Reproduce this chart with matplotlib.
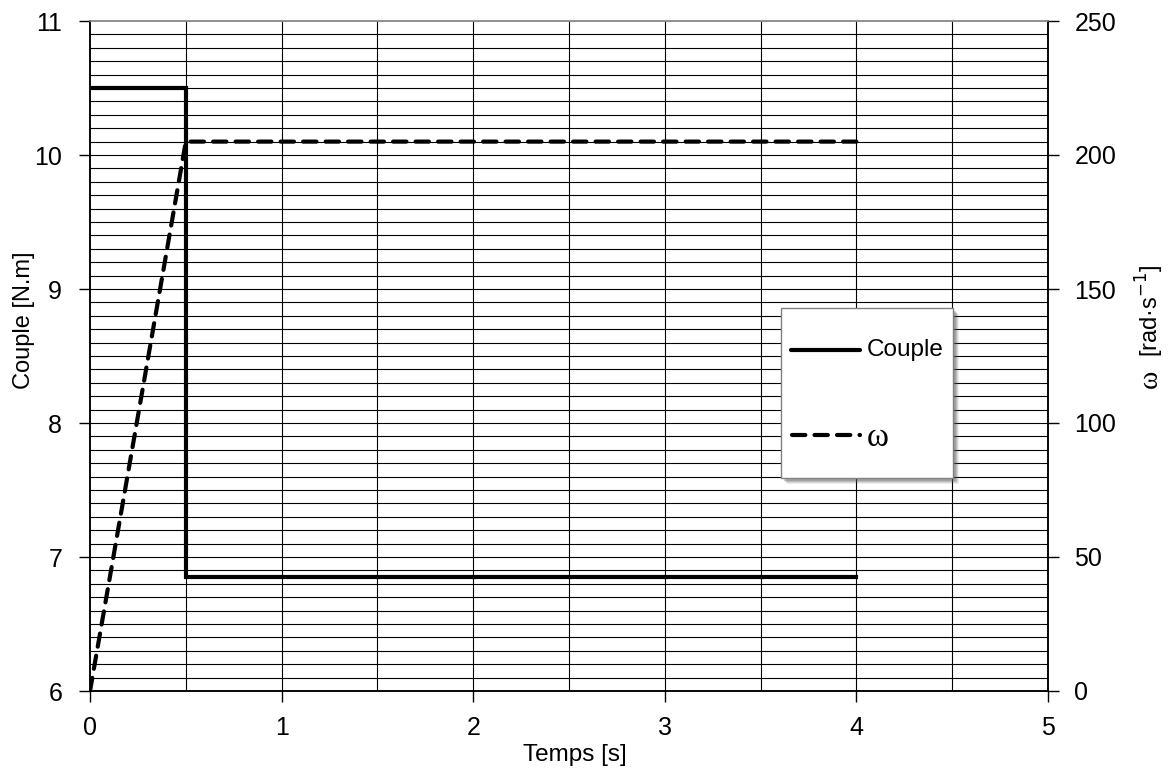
import matplotlib
matplotlib.use("Agg")
import matplotlib.pyplot as plt
from matplotlib.lines import Line2D
from matplotlib.patches import Rectangle
import numpy as np

# Data
t_couple = [0, 0.5, 0.5, 4]
couple = [10.5, 10.5, 6.85, 6.85]
t_omega = [0, 0.5, 4]
omega = [0, 205, 205]

plt.rcParams['font.family'] = ['Liberation Sans', 'DejaVu Sans']

W, H = 1169, 769
fig = plt.figure(figsize=(W/100, H/100), dpi=100)
ax = fig.add_axes([90/W, 78/H, (1048-90)/W, (691-21)/H])
ax2 = ax.twinx()

ax.set_xlim(0, 5)
ax.set_ylim(6, 11)
ax2.set_ylim(0, 250)

# grid
for y in np.arange(6.1, 11.0, 0.1):
    ax.axhline(y, color='black', lw=0.8, zorder=0)
for x in np.arange(0.5, 5.0, 0.5):
    ax.axvline(x, color='black', lw=0.8, zorder=0)

DASH = (0, (3.2, 2.2))
ax.plot(t_couple, couple, color='black', lw=3.0, solid_joinstyle='miter', zorder=3)
ax2.plot(t_omega, omega, color='black', lw=3.0, linestyle=DASH,
         dash_capstyle='round', zorder=3)

ax.set_xticks([0, 1, 2, 3, 4, 5])
ax.set_yticks([6, 7, 8, 9, 10, 11])
ax2.set_yticks([0, 50, 100, 150, 200, 250])
ax.tick_params(axis='y', direction='out', length=8, width=1, labelsize=18, pad=12)
ax.tick_params(axis='x', direction='out', length=8, width=1, labelsize=18, pad=10)
ax2.tick_params(axis='y', direction='out', length=8, width=1, labelsize=18, pad=11)
for a in (ax, ax2):
    for s in a.spines.values():
        s.set_color('black')
        s.set_linewidth(1.1)
    a.spines['top'].set_color('#8c8c8c')

def fx(px):
    return px / W

def fy(py):
    return 1 - py / H

fig.text(fx(575), fy(755), 'Temps [s]', fontsize=17.5, ha='center', va='center')
fig.text(fx(24), fy(320), 'Couple [N.m]', fontsize=17, rotation=90, ha='center', va='center')
fig.text(fx(1150), fy(379), 'ω', family='Liberation Serif', fontsize=20,
         rotation=90, ha='center', va='center')
fig.text(fx(1150), fy(311), '[rad·s$^{-1}$]', fontsize=17,
         rotation=90, ha='center', va='center')

# Legend (drawn manually to match box proportions)
x0, x1, y0, y1 = 781, 953, 308, 478
for k, a in [(6, 0.10), (5, 0.15), (4, 0.2), (3, 0.25)]:
    fig.patches.append(Rectangle((fx(x0 + k), fy(y1 + k)), (x1 - x0) / W, (y1 - y0) / H,
                                 transform=fig.transFigure, facecolor='#555555',
                                 edgecolor='none', alpha=a, zorder=5))
fig.patches.append(Rectangle((fx(x0), fy(y1)), (x1 - x0) / W, (y1 - y0) / H,
                             transform=fig.transFigure, facecolor='white',
                             edgecolor='#808080', lw=1.0, zorder=6))
fig.lines.append(Line2D([fx(791), fx(860)], [fy(350), fy(350)], transform=fig.transFigure,
                        color='black', lw=3.0, solid_capstyle='round', zorder=7))
fig.text(fx(867), fy(350), 'Couple', fontsize=17.5, ha='left', va='center', zorder=7)
fig.lines.append(Line2D([fx(792), fx(860)], [fy(435), fy(435)], transform=fig.transFigure,
                        color='black', lw=3.0, linestyle=DASH, dash_capstyle='round', zorder=7))
fig.text(fx(867), fy(438), 'ω', family='Liberation Serif', fontsize=24, ha='left',
         va='center', zorder=7)

fig.savefig('out.png', dpi=100)
